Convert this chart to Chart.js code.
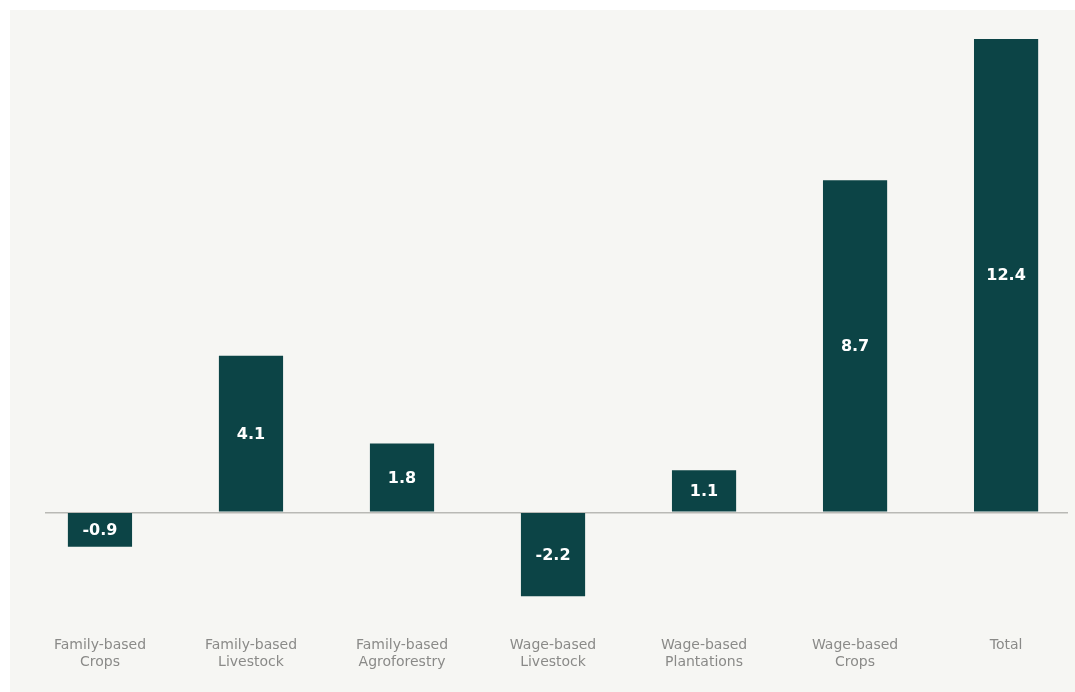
<!DOCTYPE html>
<html>
<head>
<meta charset="utf-8">
<script src="https://cdn.jsdelivr.net/npm/chart.js@4.4.1/dist/chart.umd.min.js"></script>
<style>
  html, body { margin: 0; padding: 0; background: #ffffff; overflow: hidden; }
  .panel {
    position: absolute;
    left: 10px;
    top: 10px;
    width: 1065px;
    height: 682px;
    background: #f6f6f3;
  }
</style>
</head>
<body>
<div class="panel">
  <canvas id="impactChart"></canvas>
</div>
<script>
// Categories (two-line labels) and values
const categories = [
  ['Family-based', 'Crops'],
  ['Family-based', 'Livestock'],
  ['Family-based', 'Agroforestry'],
  ['Wage-based', 'Livestock'],
  ['Wage-based', 'Plantations'],
  ['Wage-based', 'Crops'],
  ['Total']
];
const values = [-0.9, 4.1, 1.8, -2.2, 1.1, 8.7, 12.4];

const barColor = '#0c4446';

// White value label in the middle of each bar
const valueLabels = {
  id: 'valueLabels',
  afterDatasetsDraw(chart) {
    const ctx = chart.ctx;
    const meta = chart.getDatasetMeta(0);
    ctx.save();
    ctx.fillStyle = '#ffffff';
    ctx.font = 'bold 16px "DejaVu Sans", sans-serif';
    ctx.textAlign = 'center';
    ctx.textBaseline = 'middle';
    meta.data.forEach((bar, i) => {
      const { x, y, base } = bar.getProps(['x', 'y', 'base'], true);
      ctx.fillText(values[i].toFixed(1), x, (y + base) / 2 + 1);
    });
    ctx.restore();
  }
};

const canvas = document.getElementById('impactChart');
canvas.width = 1065;
canvas.height = 682;

new Chart(canvas.getContext('2d'), {
  type: 'bar',
  data: {
    datasets: [{
      data: values.map((v, i) => ({ x: i, y: v })),
      backgroundColor: barColor,
      borderWidth: 0,
      barPercentage: 0.85,
      categoryPercentage: 0.5
    }]
  },
  options: {
    responsive: false,
    animation: false,
    layout: { padding: { left: 35, right: 7, top: 6, bottom: 19 } },
    plugins: {
      legend: { display: false },
      tooltip: { enabled: false }
    },
    scales: {
      x: {
        type: 'linear',
        offset: false,
        min: -0.364,
        max: 6.41,
        grid: { display: false },
        border: { display: false },
        afterBuildTicks(axis) {
          axis.ticks = categories.map((c, i) => ({ value: i }));
        },
        ticks: {
          autoSkip: false,
          maxRotation: 0,
          padding: 2,
          color: '#8a8a88',
          font: { family: '"DejaVu Sans", sans-serif', size: 14, lineHeight: 1.22 },
          callback: (v) => categories[v]
        }
      },
      y: {
        min: -3,
        max: 13,
        display: true,
        border: { display: false },
        ticks: { display: false },
        grid: {
          drawTicks: false,
          color: (c) => c.tick.value === 0 ? '#b9b9b5' : 'rgba(0,0,0,0)',
          lineWidth: 1.5
        },
        afterBuildTicks(axis) {
          axis.ticks = [{ value: 0 }];
        }
      }
    }
  },
  plugins: [valueLabels]
});
</script>
</body>
</html>
